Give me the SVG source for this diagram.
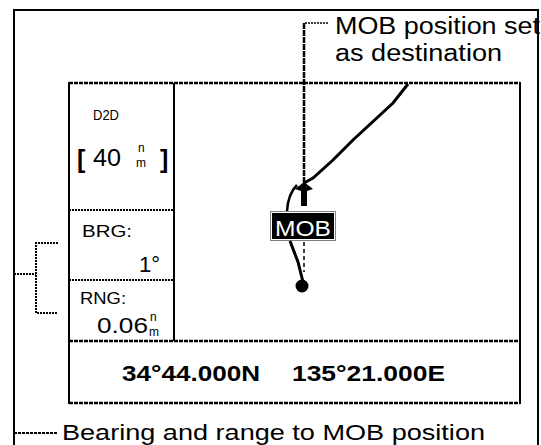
<svg xmlns="http://www.w3.org/2000/svg" width="541" height="445" viewBox="0 0 541 445">
<style>
.ln{fill:none;stroke:#000;stroke-width:2}
.dash{fill:none;stroke:#000;stroke-width:2.5;stroke-dasharray:4 1}
.dot{fill:none;stroke:#000;stroke-width:2;stroke-dasharray:2 1}
.t{font-family:"Liberation Sans",Arial,sans-serif;fill:#000}
.b{font-family:"Liberation Sans",Arial,sans-serif;font-weight:bold;fill:#000}
</style>
<rect width="541" height="445" fill="#fff"/>
<g id="frame">
<polyline class="ln" points="14,450 14,10 538,10 538,450"/>
</g>
<g id="screen">
<line class="ln" x1="69" y1="82" x2="69" y2="404"/>
<line class="ln" x1="520" y1="82" x2="520" y2="404"/>
<line class="dash" x1="69" y1="83" x2="520" y2="83"/>
<line class="dash" x1="69" y1="403" x2="520" y2="403"/>
<line class="ln" x1="174" y1="83" x2="174" y2="341"/>
</g>
<g id="d2d-box">
<text class="t" x="93" y="120" font-size="14" textLength="26" lengthAdjust="spacingAndGlyphs">D2D</text>
<text class="b" x="77" y="168" font-size="25">[</text>
<text class="t" x="93" y="166" font-size="24" textLength="28" lengthAdjust="spacingAndGlyphs">40</text>
<text class="t" x="138" y="152" font-size="12">n</text>
<text class="t" x="136" y="167" font-size="12">m</text>
<text class="b" x="160" y="168" font-size="25">]</text>
</g>
<g id="brg-box">
<line class="dot" x1="69" y1="210" x2="174" y2="210"/>
<text class="t" x="82" y="237" font-size="16" textLength="50" lengthAdjust="spacingAndGlyphs">BRG:</text>
<text class="t" x="139" y="272" font-size="22">1°</text>
</g>
<g id="rng-box">
<line class="dot" x1="69" y1="280" x2="174" y2="280"/>
<text class="t" x="80" y="304" font-size="16" textLength="46" lengthAdjust="spacingAndGlyphs">RNG:</text>
<text class="t" x="97" y="333" font-size="22" textLength="51" lengthAdjust="spacingAndGlyphs">0.06</text>
<text class="t" x="150" y="321" font-size="12">n</text>
<text class="t" x="149" y="336" font-size="12">m</text>
</g>
<g id="position-box">
<line class="dash" x1="69" y1="341" x2="520" y2="341"/>
<text class="b" x="122" y="381" font-size="22" textLength="138" lengthAdjust="spacingAndGlyphs">34°44.000N</text>
<text class="b" x="292" y="381" font-size="22" textLength="153" lengthAdjust="spacingAndGlyphs">135°21.000E</text>
</g>
<g id="chart">
<polyline fill="none" stroke="#000" stroke-width="3" points="408,84 393,103 353,140 333,160 313,178 304,183"/>
<path d="M295,189 L304,182 L313,189 L307,191 L307,206 L301,206 L301,191 Z" fill="#000"/>
<path d="M297,185 Q288,194 287,211" fill="none" stroke="#000" stroke-width="2.5"/>
<path d="M290,241 L298,262 L303,282" fill="none" stroke="#000" stroke-width="3"/>
<line x1="304" y1="242" x2="304" y2="272" stroke="#000" stroke-width="1.5" stroke-dasharray="4 3"/>
<circle cx="302" cy="286" r="6.5" fill="#000"/>
</g>
<g id="mob-mark">
<rect x="270.5" y="211.5" width="65" height="29" fill="none" stroke="#000" stroke-width="1" stroke-dasharray="1 1"/>
<rect x="272" y="213" width="62" height="26" fill="#000"/>
<text x="275" y="236" font-size="22" font-family="Liberation Sans, Arial, sans-serif" fill="#fff" textLength="56" lengthAdjust="spacingAndGlyphs">MOB</text>
</g>
<g id="label-destination">
<text class="t" x="335" y="34" font-size="23" textLength="205" lengthAdjust="spacingAndGlyphs">MOB position set</text>
<text class="t" x="335" y="61" font-size="23" textLength="167" lengthAdjust="spacingAndGlyphs">as destination</text>
</g>
<g id="label-bearing">
<text class="t" x="62" y="440" font-size="22" textLength="423" lengthAdjust="spacingAndGlyphs">Bearing and range to MOB position</text>
</g>
<g id="connectors">
<polyline points="328,23 304,23" fill="none" stroke="#000" stroke-width="1.5" stroke-dasharray="2 1"/>
<line x1="304" y1="23" x2="304" y2="183" stroke="#000" stroke-width="2.5" stroke-dasharray="6 1"/>
<polyline points="58,243 36,243 36,313 58,313" fill="none" stroke="#000" stroke-width="2" stroke-dasharray="2 1"/>
<line x1="14" y1="274" x2="36" y2="274" stroke="#000" stroke-width="2" stroke-dasharray="2 1"/>
<line x1="14" y1="433" x2="57" y2="433" stroke="#000" stroke-width="2" stroke-dasharray="3 1"/>
</g>
</svg>
